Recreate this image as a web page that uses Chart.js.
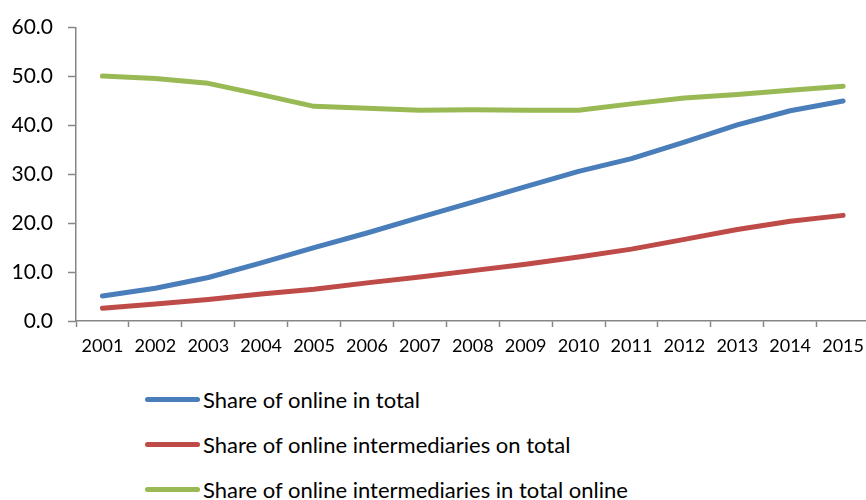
<!DOCTYPE html>
<html>
<head>
<meta charset="utf-8">
<title>Online shares 2001-2015</title>
<script src="https://cdn.jsdelivr.net/npm/chart.js@4.4.1/dist/chart.umd.min.js"></script>
<style>
  html, body { margin: 0; padding: 0; background: #fff; overflow: hidden; }
  #wrap { width: 872px; height: 365px; }
  #legend { list-style: none; margin: 0; padding: 12px 0 0 0; font-family: Lato, sans-serif; font-size: 22px; color: #000; }
  #legend li { height: 45px; display: flex; align-items: center; }
  #legend .swatch { display: inline-block; margin-left: 145px; width: 55px; height: 5px; border-radius: 3px; }
  #legend .label { margin-left: 3px; }
</style>
</head>
<body>
<div id="wrap"><canvas id="chart" width="872" height="365"></canvas></div>
<ul id="legend"></ul>
<script>
const years = ['2001', '2002', '2003', '2004', '2005', '2006', '2007', '2008',
  '2009', '2010', '2011', '2012', '2013', '2014', '2015']
const onlineInTotal = [5.1, 6.7, 8.9, 11.9, 15.0, 18.0, 21.2, 24.3, 27.5, 30.6, 33.2, 36.6, 40.1, 43.0, 45.0]
const intermediariesOnTotal = [2.6, 3.5, 4.4, 5.5, 6.5, 7.8, 9.0, 10.3, 11.6, 13.1, 14.7, 16.7, 18.7, 20.4, 21.6]
const intermediariesInOnline = [50.1, 49.6, 48.6, 46.3, 43.9, 43.5, 43.1, 43.2, 43.1, 43.1, 44.4, 45.6, 46.3, 47.2, 48.0]
const seriesNames = [
  'Share of online in total',
  'Share of online intermediaries on total',
  'Share of online intermediaries in total online'
]
const seriesColors = ['#4a7ebb', '#be4b48', '#98b954']

const axisGrey = '#868686'

// legend is a plain list under the canvas, one series per row
const htmlLegend = {
  id: 'htmlLegend',
  afterUpdate (chart) {
    const ul = document.getElementById('legend')
    ul.innerHTML = ''
    chart.data.datasets.forEach((ds) => {
      const li = document.createElement('li')
      const sw = document.createElement('span')
      sw.className = 'swatch'
      sw.style.background = ds.borderColor
      const txt = document.createElement('span')
      txt.className = 'label'
      txt.textContent = ds.label
      li.appendChild(sw)
      li.appendChild(txt)
      ul.appendChild(li)
    })
  }
}

const series = [onlineInTotal, intermediariesOnTotal, intermediariesInOnline]

new Chart(document.getElementById('chart'), {
  type: 'line',
  data: {
    labels: years,
    datasets: series.map((values, i) => ({
      label: seriesNames[i],
      data: values,
      borderColor: seriesColors[i],
      backgroundColor: seriesColors[i],
      borderWidth: 5,
      borderCapStyle: 'round',
      borderJoinStyle: 'round',
      pointRadius: 0,
      tension: 0
    }))
  },
  options: {
    responsive: false,
    animation: false,
    layout: { padding: { top: 25, right: 1, left: 0, bottom: 0 } },
    plugins: {
      legend: { display: false },
      tooltip: { enabled: false }
    },
    scales: {
      x: {
        offset: true,
        afterFit (scale) { scale.height = 44 },
        border: { color: axisGrey, width: 1.5 },
        grid: { offset: true, drawOnChartArea: false, color: axisGrey, tickLength: 6, tickWidth: 1.5 },
        ticks: { color: '#000', font: { family: 'Lato, sans-serif', size: 18 }, padding: 8, maxRotation: 0, autoSkip: false }
      },
      y: {
        min: 0,
        max: 60,
        afterFit (scale) { scale.width = 76 },
        border: { color: axisGrey, width: 1.5 },
        grid: { drawOnChartArea: false, color: axisGrey, tickLength: 8, tickWidth: 1.5 },
        ticks: {
          stepSize: 10,
          color: '#000',
          font: { family: 'Lato, sans-serif', size: 21 },
          padding: 15,
          callback: (v) => v.toFixed(1)
        }
      }
    }
  },
  plugins: [htmlLegend]
})
</script>
</body>
</html>
